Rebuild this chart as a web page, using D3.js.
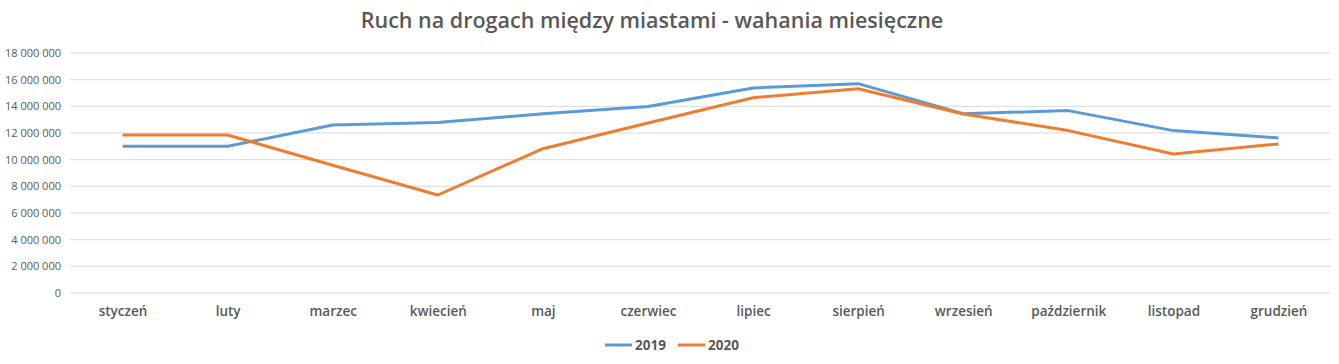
<!DOCTYPE html>
<html><head><meta charset="utf-8">
<script src="https://cdn.jsdelivr.net/npm/d3@7"></script>
<style>body{margin:0;background:#fff}svg{display:block}</style>
</head><body>
<script>
const months = ["styczeń","luty","marzec","kwiecień","maj","czerwiec","lipiec","sierpień","wrzesień","październik","listopad","grudzień"];
const values2019 = [11000000,11000000,12600000,12780000,13450000,13980000,15380000,15700000,13450000,13680000,12180000,11630000];
const values2020 = [11850000,11850000,9580000,7350000,10820000,12750000,14650000,15320000,13430000,12180000,10430000,11180000];
const yTicks = [0,2000000,4000000,6000000,8000000,10000000,12000000,14000000,16000000,18000000];
const seriesNames = ["2019","2020"];
const colors = ["#5B9BD5","#ED7D31"];
const title = "Ruch na drogach między miastami - wahania miesięczne";

const W=1339,H=364;
const m={left:70,right:8,top:53,bottom:71};
const svg=d3.select("body").append("svg").attr("width",W).attr("height",H);
const font="Open Sans, Liberation Sans, sans-serif";
const x=d3.scalePoint().domain(months).range([m.left,W-m.right]).padding(0.5);
const y=d3.scaleLinear().domain([0,18000000]).range([H-m.bottom,m.top]);

const fmt=v=>d3.format(",")(v).replace(/,/g," ");
svg.append("g").selectAll("line").data(yTicks).join("line")
 .attr("x1",m.left).attr("x2",W-m.right)
 .attr("y1",d=>y(d)).attr("y2",d=>y(d))
 .attr("stroke","#D9D9D9").attr("stroke-width",1);
const ya=svg.append("g").attr("transform",`translate(${m.left-9},0)`)
 .call(d3.axisLeft(y).tickValues(yTicks).tickFormat(fmt).tickSize(0).tickPadding(0));
ya.select(".domain").remove();
ya.selectAll("text").attr("fill","#595959").style("font-family",font).style("font-size","11px");
const xa=svg.append("g").attr("transform",`translate(0,${H-m.bottom})`)
 .call(d3.axisBottom(x).tickSize(0).tickPadding(13));
xa.select(".domain").remove();
xa.selectAll("text").attr("fill","#595959").style("font-family",font).style("font-size","13.5px").style("font-weight","600");

const line=d3.line().x((d,i)=>x(months[i])).y(d=>y(d));
[values2019,values2020].forEach((vals,k)=>{
 svg.append("path").datum(vals).attr("d",line).attr("fill","none")
  .attr("stroke",colors[k]).attr("stroke-width",3).attr("stroke-linejoin","round");
});
svg.append("text").attr("x",652).attr("y",28).attr("text-anchor","middle")
 .attr("fill","#595959").style("font-family",font).style("font-size","21.5px").style("font-weight","600")
 .text(title);
const lg=svg.append("g");
const lx=[605,678];
seriesNames.forEach((n,k)=>{
 lg.append("line").attr("x1",lx[k]).attr("x2",lx[k]+27).attr("y1",345).attr("y2",345)
  .attr("stroke",colors[k]).attr("stroke-width",3);
 lg.append("text").attr("x",lx[k]+30).attr("y",350).attr("fill","#595959")
  .style("font-family",font).style("font-size","13.5px").style("font-weight","700").text(n);
});
</script>
</body></html>
